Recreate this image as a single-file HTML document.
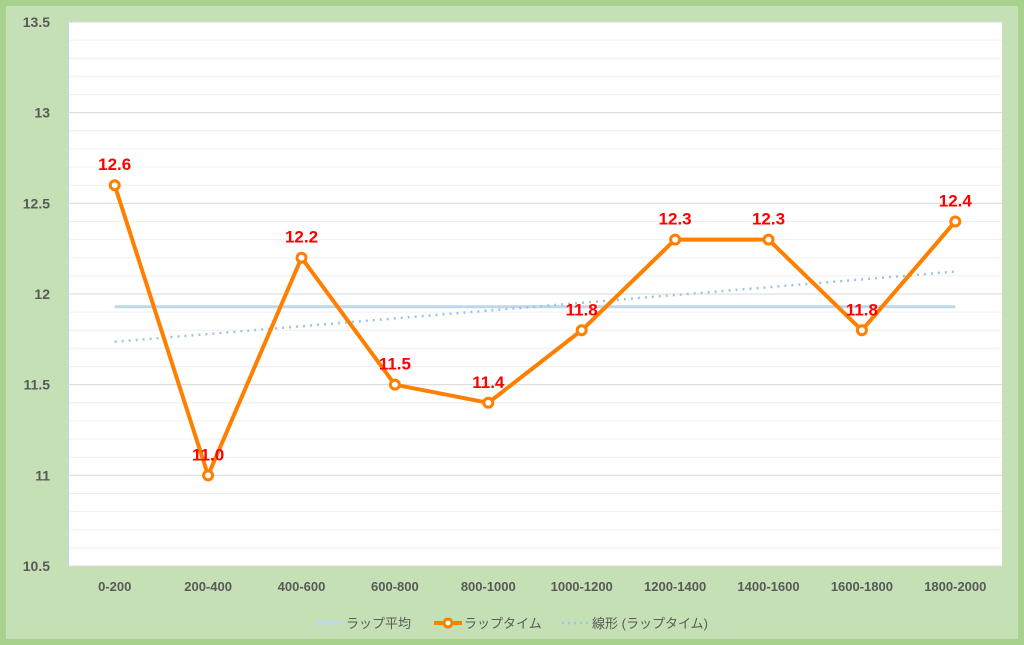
<!DOCTYPE html>
<html><head><meta charset="utf-8"><style>
body{margin:0;width:1024px;height:645px;overflow:hidden;background:#a9d18e}
svg{display:block;font-family:"Liberation Sans","Noto Sans CJK JP",sans-serif}
</style></head><body>
<svg width="1024" height="645">
<rect x="0" y="0" width="1024" height="645" fill="#a9d18e"/>
<rect x="6" y="6" width="1012" height="633" fill="#c5e0b4"/>
<rect x="68" y="22" width="934" height="544" fill="#fff"/>
<g id="grid"></g><g id="yticks"></g><g id="xticks"></g><g id="series"></g>
<g font-size="13" fill="#595959">
<line x1="316" y1="623" x2="344" y2="623" stroke="#bdd7ee" stroke-width="3"/>
<text x="346" y="628">ラップ平均</text>
<line x1="434" y1="623" x2="462" y2="623" stroke="#ff7f00" stroke-width="4"/>
<circle cx="448" cy="623" r="4" fill="#fff" stroke="#ff7f00" stroke-width="3"/>
<text x="464" y="628">ラップタイム</text>
<line x1="562" y1="623" x2="590" y2="623" stroke="#9dc3e6" stroke-width="2.5" stroke-dasharray="2,4"/>
<text x="592" y="628">線形 (ラップタイム)</text>
</g>
</svg>
<script>
const categories=["0-200","200-400","400-600","600-800","800-1000","1000-1200","1200-1400","1400-1600","1600-1800","1800-2000"];
const lapTimes=[12.6,11.0,12.2,11.5,11.4,11.8,12.3,12.3,11.8,12.4];
const yTicks=["10.5","11","11.5","12","12.5","13","13.5"];
const yMin=10.5,yMax=13.5,L=68,T=22,W=934,H=544;
const NS="http://www.w3.org/2000/svg";
const y=v=>T+(yMax-v)/(yMax-yMin)*H;
const x=i=>L+W/categories.length*(i+0.5);
function mk(tag,attrs,parent,txt){const e=document.createElementNS(NS,tag);for(const k in attrs)e.setAttribute(k,attrs[k]);if(txt!==undefined)e.textContent=txt;document.getElementById(parent).appendChild(e);return e;}
for(let k=0;k<=30;k++){const v=yMin+k*0.1;
 const g=mk('line',{x1:L,x2:L+W,y1:y(v),y2:y(v),stroke:k%5===0?'#d9d9d9':'#efefef','stroke-width':1},'grid');
 
 }
const ax=mk('line',{x1:L+0.5,x2:L+0.5,y1:T,y2:T+H,stroke:'#bdd7ee'},'grid');


yTicks.forEach(t=>{const e=mk('text',{x:50,y:y(+t)+5,'text-anchor':'end','font-size':14,'font-weight':'bold',fill:'#595959'},'yticks',t);
 
 });
categories.forEach((c,i)=>{const e=mk('text',{x:x(i),y:591,'text-anchor':'middle','font-size':13,'font-weight':'bold',fill:'#595959'},'xticks',c);
 
 });
const n=lapTimes.length,mean=lapTimes.reduce((a,b)=>a+b,0)/n;
const avg=mk('line',{x1:x(0),x2:x(n-1),y1:y(mean),y2:y(mean),stroke:'#bdd7ee','stroke-width':3},'series');


let sx=0,sxy=0,sxx=0;lapTimes.forEach((v,i)=>{sx+=i;sxy+=i*v;sxx+=i*i;});
const slope=(n*sxy-sx*lapTimes.reduce((a,b)=>a+b,0))/(n*sxx-sx*sx),icpt=mean-slope*sx/n;
const tr=mk('line',{x1:x(0),x2:x(n-1),y1:y(icpt),y2:y(icpt+slope*(n-1)),stroke:'#9dc3e6','stroke-width':2.5,'stroke-dasharray':'2,5'},'series');


const pl=mk('polyline',{points:lapTimes.map((v,i)=>x(i)+','+y(v)).join(' '),fill:'none',stroke:'#ff7f00','stroke-width':4,'stroke-linejoin':'round'},'series');


lapTimes.forEach((v,i)=>{
 const c=mk('circle',{cx:x(i),cy:y(v),r:4.5,fill:'#fff',stroke:'#ff7f00','stroke-width':3},'series');
 
 
 const t=mk('text',{x:x(i),y:y(v)-15,'text-anchor':'middle','font-size':17,'font-weight':'bold',fill:'#ff0000'},'series',v.toFixed(1));
 
 });
</script>
</body></html>
